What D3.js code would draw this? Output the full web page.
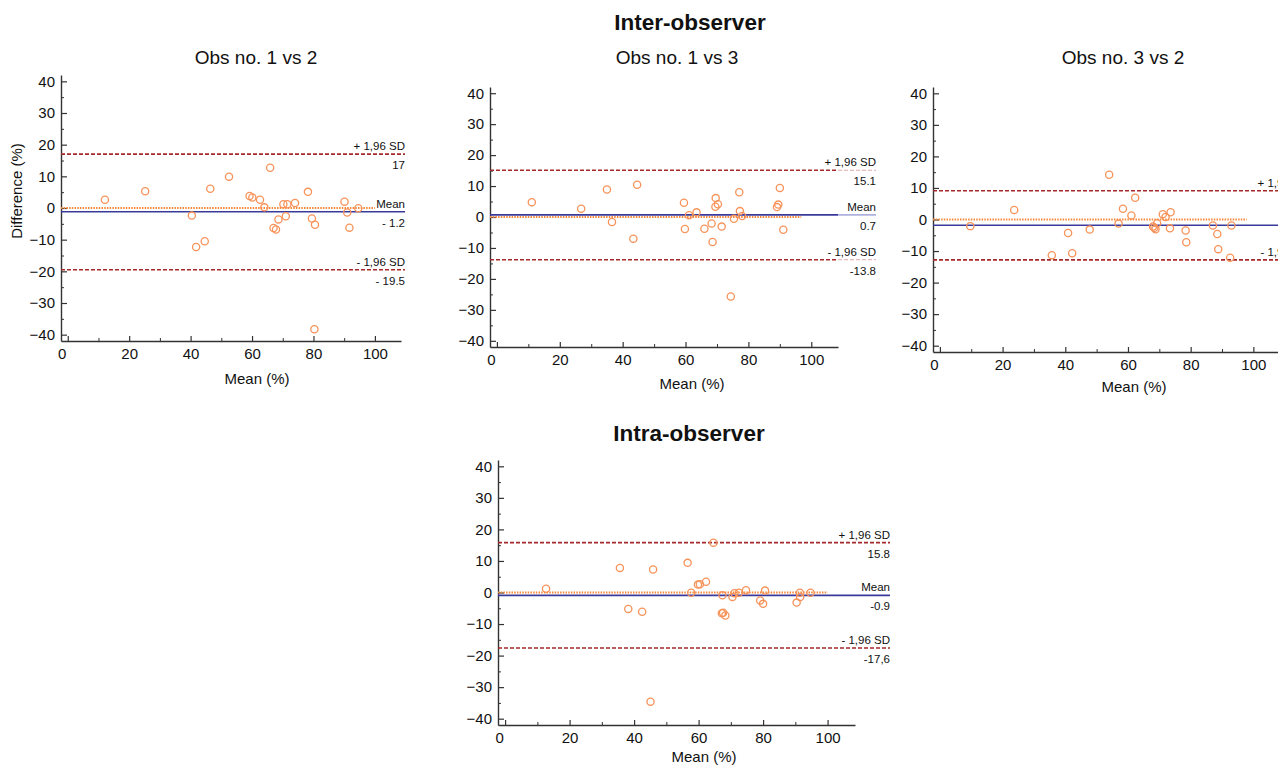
<!DOCTYPE html>
<html>
<head>
<meta charset="utf-8">
<script src="https://cdn.jsdelivr.net/npm/d3@7"></script>
<style>
  body { margin: 0; background: #fff; }
  svg text { font-family: "Liberation Sans", Arial, sans-serif; fill: #111; }
</style>
</head>
<body>
<svg id="chart" width="1278" height="767"></svg>
<script>
// ---- data ----
const xTicks = [0, 20, 40, 60, 80, 100];
const yTicks = [-40, -30, -20, -10, 0, 10, 20, 30, 40];

// Obs no. 1 vs 2
const obs12Mean = [12.1, 25.2, 40.4, 41.8, 44.6, 46.4, 52.5, 59.2, 60.1, 62.6, 64.0, 65.9, 67.0, 67.8,
  68.6, 70.2, 71.5, 71.0, 74.0, 78.2, 79.5, 80.5, 80.3, 90.1, 91.0, 91.7, 94.6];
const obs12Diff = [2.6, 5.3, -2.4, -12.3, -10.5, 6.1, 9.9, 3.8, 3.3, 2.6, 0.2, 12.7, -6.3, -6.8,
  -3.6, 1.2, 1.2, -2.6, 1.6, 5.1, -3.3, -5.3, -38.3, 2.0, -1.4, -6.2, -0.1];
const obs12Limits = [17, -1.2, -19.5];
const obs12Labels = ["17", "- 1.2", "- 19.5"];

// Obs no. 1 vs 3
const obs13Mean = [11.1, 26.8, 35.0, 36.6, 43.4, 44.6, 59.5, 59.8, 61.1, 63.5, 66.0, 68.3, 68.6,
  69.6, 70.3, 69.5, 71.5, 74.4, 75.4, 77.1, 77.3, 78.0, 89.1, 89.5, 90.0, 91.1];
const obs13Diff = [4.8, 2.7, 8.9, -1.6, -7.0, 10.4, 4.6, -3.9, 0.6, 1.5, -3.8, -2.1, -8.1,
  6.1, 4.1, 3.3, -3.1, -25.7, -0.6, 8.0, 1.9, 0.3, 3.2, 4.0, 9.4, -4.1];
const obs13Limits = [15.1, 0.7, -13.8];
const obs13Labels = ["15.1", "0.7", "-13.8"];

// Obs no. 3 vs 2
const obs32Mean = [9.7, 23.7, 35.7, 40.9, 42.2, 47.8, 54.0, 57.0, 58.4, 61.1, 62.3, 68.0, 68.4,
  68.8, 69.3, 71.1, 72.0, 73.4, 73.6, 78.4, 78.6, 87.1, 88.5, 88.8, 92.6, 93.0];
const obs32Diff = [-2.1, 3.0, -11.3, -4.3, -10.7, -3.2, 14.2, -1.3, 3.4, 1.3, 6.9, -2.2, -2.6,
  -3.1, -1.2, 1.7, 0.8, -2.8, 2.3, -3.5, -7.2, -1.9, -4.6, -9.4, -12.1, -1.9];
const obs32Limits = [9.1, -1.8, -12.8];
const obs32Labels = ["9.1", "- 1.8", "- 12.8"];

// Intra-observer
const intraMean = [12.7, 35.6, 38.2, 42.5, 45.1, 45.9, 56.6, 57.7, 59.8, 60.4, 62.3, 64.6, 67.4,
  67.2, 67.6, 68.3, 70.5, 71.1, 72.5, 74.7, 79.1, 80.0, 80.6, 90.4, 91.4, 91.5, 94.7];
const intraDiff = [1.2, 7.8, -5.2, -6.1, -34.6, 7.3, 9.4, -0.1, 2.5, 2.6, 3.4, 15.8, -0.9,
  -6.6, -6.4, -7.3, -1.4, -0.2, -0.1, 0.7, -2.5, -3.6, 0.6, -3.2, -0.1, -1.4, -0.1];
const intraLimits = [15.8, -0.9, -17.6];
const intraLabels = ["15.8", "-0.9", "-17,6"];

const limitNames = ["+ 1,96 SD", "Mean", "- 1,96 SD"];

// ---- layout of each panel ----
const panels = [
  { title: "Obs no. 1 vs 2", mean: obs12Mean, diff: obs12Diff, limits: obs12Limits, labels: obs12Labels,
    x0: 61, x1: 401, y0: 75, y1: 341, lineEnd: 405, zeroEnd: 100,
    titleX: 256, titleY: 64, xLabelX: 257, xLabelY: 384, yLabel: true },
  { title: "Obs no. 1 vs 3", mean: obs13Mean, diff: obs13Diff, limits: obs13Limits, labels: obs13Labels,
    x0: 490, x1: 838, y0: 87, y1: 347, lineEnd: 876, zeroEnd: 96.8,
    titleX: 677, titleY: 64, xLabelX: 692, xLabelY: 389, pale: true },
  { title: "Obs no. 3 vs 2", mean: obs32Mean, diff: obs32Diff, limits: obs32Limits, labels: obs32Labels,
    x0: 933, x1: 1280, y0: 87, y1: 352, lineEnd: 1309, zeroEnd: 97.9,
    titleX: 1123, titleY: 64, xLabelX: 1134, xLabelY: 392 },
  { title: null, mean: intraMean, diff: intraDiff, limits: intraLimits, labels: intraLabels,
    x0: 498, x1: 855, y0: 460, y1: 725, lineEnd: 890, zeroEnd: 100,
    xLabelX: 704, xLabelY: 762 }
];

const xDomain = [-2.2, 108.5];
const yDomain = [-42, 42];

const svg = d3.select("#chart");

// Group headings
svg.append("text")
  .attr("x", 690).attr("y", 30)
  .attr("text-anchor", "middle")
  .style("font-size", "22.5px").style("font-weight", "bold")
  .text("Inter-observer");

svg.append("text")
  .attr("x", 689).attr("y", 441)
  .attr("text-anchor", "middle")
  .style("font-size", "22.5px").style("font-weight", "bold")
  .text("Intra-observer");

const drawPanel = (p) => {
  const x = d3.scaleLinear().domain(xDomain).range([p.x0, p.x1]);
  const y = d3.scaleLinear().domain(yDomain).range([p.y1, p.y0]);
  const g = svg.append("g");

  if (p.title) {
    g.append("text")
      .attr("x", p.titleX).attr("y", p.titleY)
      .attr("text-anchor", "middle")
      .style("font-size", "19px")
      .text(p.title);
  }

  // minor ticks
  g.append("g")
    .attr("transform", `translate(${p.x0},0)`)
    .call(d3.axisLeft(y).tickValues(d3.range(-35, 40, 10)).tickSizeInner(-3).tickSizeOuter(0).tickFormat(""))
    .call((a) => a.select(".domain").remove())
    .selectAll("line").attr("stroke", "#333");
  g.append("g")
    .attr("transform", `translate(0,${p.y1})`)
    .call(d3.axisBottom(x).tickValues(d3.range(10, 101, 20)).tickSizeInner(-3).tickSizeOuter(0).tickFormat(""))
    .call((a) => a.select(".domain").remove())
    .selectAll("line").attr("stroke", "#333");

  // main axes
  const yAxis = g.append("g")
    .attr("transform", `translate(${p.x0},0)`)
    .call(d3.axisLeft(y).tickValues(yTicks).tickSizeInner(-6).tickSizeOuter(0).tickPadding(6));
  const xAxis = g.append("g")
    .attr("transform", `translate(0,${p.y1})`)
    .call(d3.axisBottom(x).tickValues(xTicks).tickSizeInner(-5).tickSizeOuter(0).tickPadding(7));
  [yAxis, xAxis].forEach((a) => {
    a.select(".domain").attr("stroke", "#333").attr("stroke-width", 1.4);
    a.selectAll(".tick line").attr("stroke", "#333").attr("stroke-width", 1.2);
    a.selectAll(".tick text").style("font-size", "15px").attr("fill", "#111");
  });
  xAxis.selectAll(".tick text").filter((d) => d === 0).attr("dx", -6);

  g.append("text")
    .attr("x", p.xLabelX).attr("y", p.xLabelY)
    .attr("text-anchor", "middle")
    .style("font-size", "15px")
    .text("Mean (%)");

  if (p.yLabel) {
    g.append("text")
      .attr("transform", `translate(22,191) rotate(-90)`)
      .attr("text-anchor", "middle")
      .style("font-size", "15px")
      .text("Difference (%)");
  }

  // zero reference (dotted orange)
  g.append("line")
    .attr("x1", x(xDomain[0])).attr("x2", x(p.zeroEnd))
    .attr("y1", y(0)).attr("y2", y(0))
    .attr("stroke", "#f5883a").attr("stroke-width", 2)
    .attr("stroke-dasharray", "1.5,1.2");

  // limits of agreement and mean difference
  const end = p.pale ? p.x1 : p.lineEnd;
  p.limits.forEach((v, i) => {
    const isMean = i === 1;
    const color = isMean ? "#3a3a9c" : "#a3292b";
    const dash = isMean ? null : "4,2";
    g.append("line")
      .attr("x1", x(xDomain[0])).attr("x2", end)
      .attr("y1", y(v)).attr("y2", y(v))
      .attr("stroke", color).attr("stroke-width", 1.6)
      .attr("stroke-dasharray", dash);
    if (p.pale) {
      g.append("line")
        .attr("x1", end).attr("x2", p.lineEnd)
        .attr("y1", y(v)).attr("y2", y(v))
        .attr("stroke", isMean ? "#aeb0de" : "#dba8a8").attr("stroke-width", isMean ? 1.6 : 1)
        .attr("stroke-dasharray", dash);
    }
    g.append("text")
      .attr("x", p.lineEnd).attr("y", y(v) - 4)
      .attr("text-anchor", "end")
      .style("font-size", "11.5px")
      .text(limitNames[i]);
    g.append("text")
      .attr("x", p.lineEnd).attr("y", y(v) + 15)
      .attr("text-anchor", "end")
      .style("font-size", "11.5px")
      .text(p.labels[i]);
  });

  // points
  g.append("g")
    .selectAll("circle")
    .data(p.mean.map((m, i) => [m, p.diff[i]]))
    .join("circle")
    .attr("cx", (d) => x(d[0]))
    .attr("cy", (d) => y(d[1]))
    .attr("r", 3.6)
    .attr("fill", "none")
    .attr("stroke", "#f7935a")
    .attr("stroke-width", 1.3);
};

panels.forEach(drawPanel);
</script>
</body>
</html>
